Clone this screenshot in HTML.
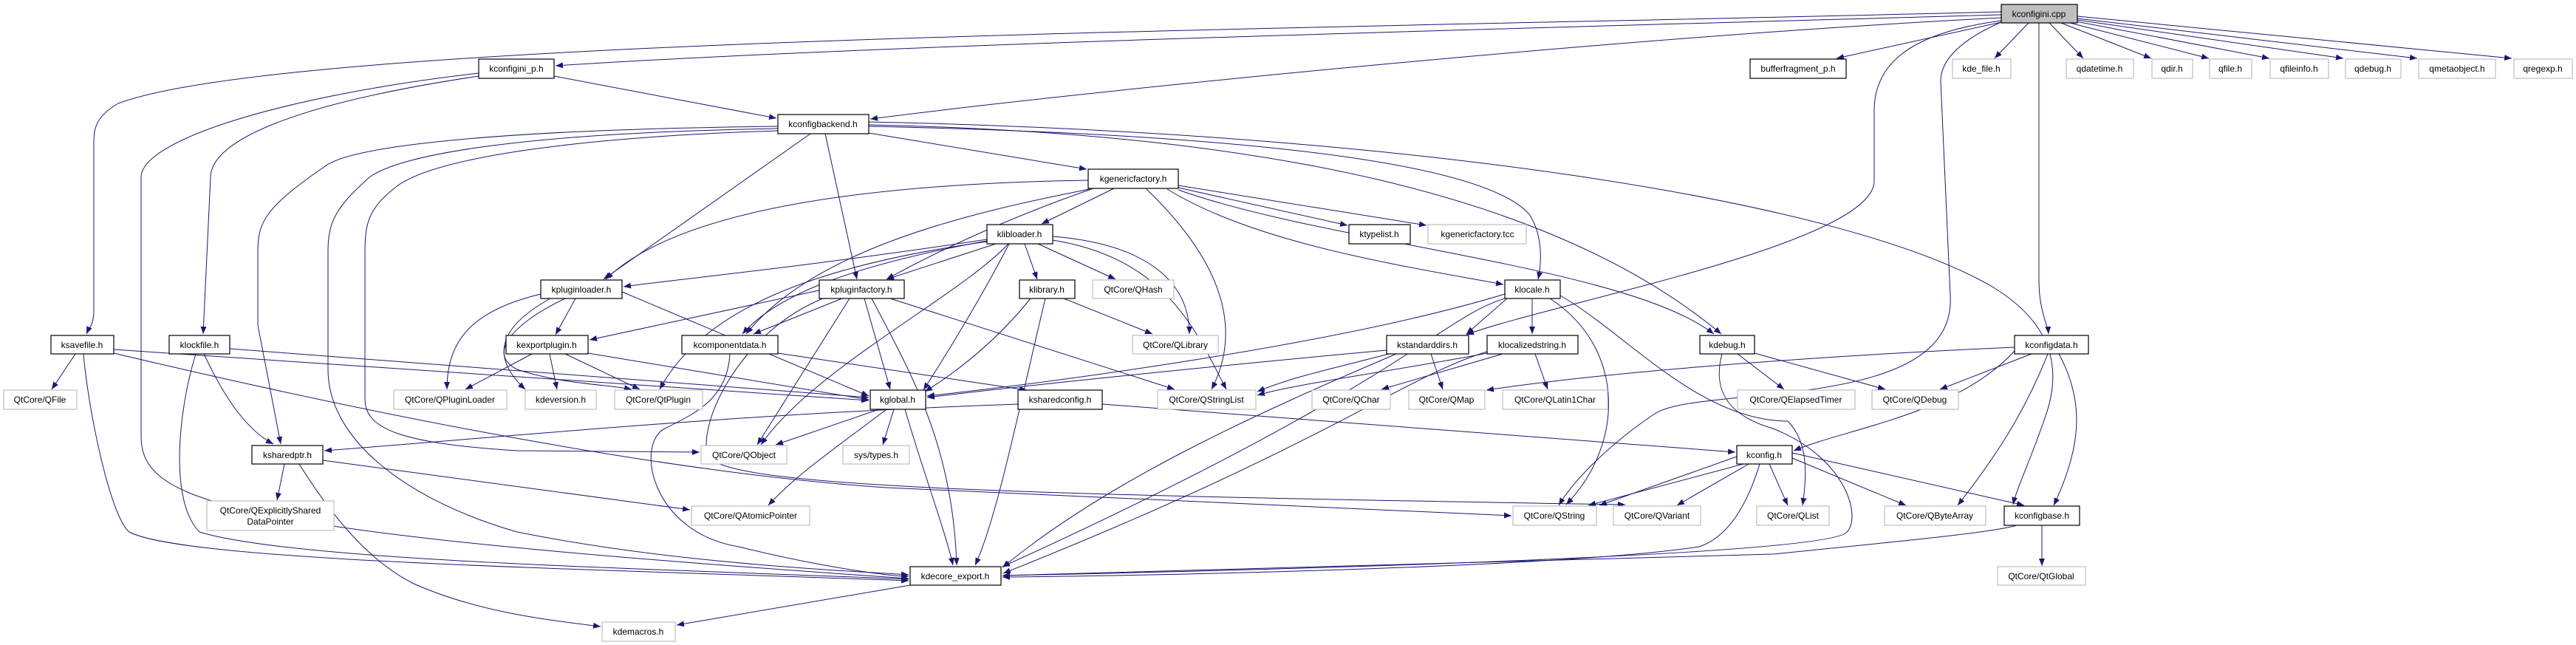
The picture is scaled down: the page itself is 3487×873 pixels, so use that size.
<!DOCTYPE html>
<html><head><meta charset="utf-8"><style>
html,body{margin:0;padding:0;background:#fff;}
svg{display:block;}
text{font-family:"Liberation Sans",sans-serif;font-size:12px;text-anchor:middle;fill:#000;}
.e{fill:none;stroke:#191970;stroke-width:1;marker-end:url(#a);}
.n{fill:#fff;stroke:#000;stroke-width:1.2;}
.x{fill:#fff;stroke:#bfbfbf;stroke-width:1.2;}
</style></head><body>
<svg width="3487" height="873" viewBox="0 0 3487 873" xmlns="http://www.w3.org/2000/svg">
<defs><marker id="a" markerUnits="userSpaceOnUse" markerWidth="11" markerHeight="8" refX="10" refY="4" orient="auto"><path d="M0,0 L10,4 L0,8 z" fill="#191970"/></marker></defs>
<g>
<path class="e" d="M2709,20 C2000,40 1200,60 752,89"/>
<path class="e" d="M2709,24 C2200,50 1500,120 1178,161"/>
<path class="e" d="M2709,16 C1800,40 400,50 160,140 C125,160 127,180 127,200 L127,420 C127,440 120,445 117,452"/>
<path class="e" d="M2709,30 L2486,79"/>
<path class="e" d="M2746,31 L2700,79"/>
<path class="e" d="M2774,31 L2820,79"/>
<path class="e" d="M2790,31 L2912,79"/>
<path class="e" d="M2802,31 L2990,79"/>
<path class="e" d="M2810,29 L3072,79"/>
<path class="e" d="M2812,27 L3172,79"/>
<path class="e" d="M2812,25 L3272,79"/>
<path class="e" d="M2812,22 L3400,79"/>
<path class="e" d="M2709,28 C2580,45 2537,90 2537,150 L2537,245 C2537,330 2100,410 1985,453"/>
<path class="e" d="M2760,31 L2760,380 C2760,420 2772,440 2773,452"/>
<path class="e" d="M2709,30 C2640,60 2627,90 2627,110 L2640,400 C2650,560 2300,520 2240,560 C2180,600 2130,650 2110,684"/>
<path class="e" d="M750,103 L1051,160"/>
<path class="e" d="M648,103 C400,140 285,190 285,240 L275,452"/>
<path class="e" d="M648,99 C380,130 191,190 191,240 L191,590 C191,680 300,720 1230,783"/>
<path class="e" d="M1097,181 L817,378"/>
<path class="e" d="M1117,181 L1160,378"/>
<path class="e" d="M1176,180 L1471,229"/>
<path class="e" d="M1053,171 C700,175 480,195 440,225 C360,280 349,300 349,340 L349,440 L380,601"/>
<path class="e" d="M1053,174 C700,180 540,210 500,240 C455,280 444,300 444,340 L444,500 C444,600 560,680 700,720 C900,760 1100,770 1230,778"/>
<path class="e" d="M1053,177 C800,185 600,210 540,250 C500,280 494,300 494,340 L494,540 C494,580 540,600 700,610 L947,612"/>
<path class="e" d="M1176,171 C1600,180 2000,210 2070,290 C2090,320 2086,360 2082,378"/>
<path class="e" d="M1176,169 C1700,180 2100,260 2330,452"/>
<path class="e" d="M1176,165 C1900,180 2500,270 2700,390 C2780,440 2790,500 2770,560 C2750,620 2730,660 2725,683"/>
<path class="e" d="M1508,255 L1410,303"/>
<path class="e" d="M1480,255 C1350,300 1250,350 1200,378"/>
<path class="e" d="M1475,256 C1300,290 1100,340 1010,452"/>
<path class="e" d="M1473,244 C1100,250 900,300 820,378"/>
<path class="e" d="M1595,254 L1824,305"/>
<path class="e" d="M1595,251 L1931,305"/>
<path class="e" d="M1580,256 C1700,330 1900,360 2035,385"/>
<path class="e" d="M1595,257 C1800,330 2200,360 2320,452"/>
<path class="e" d="M1552,256 C1660,360 1680,450 1640,527"/>
<path class="e" d="M1348,330 L1200,378"/>
<path class="e" d="M1387,330 L1404,378"/>
<path class="e" d="M1405,330 L1510,378"/>
<path class="e" d="M1425,320 C1550,330 1610,380 1610,452"/>
<path class="e" d="M1366,330 C1340,380 1300,450 1250,528"/>
<path class="e" d="M1365,330 C1300,400 1100,500 1030,602"/>
<path class="e" d="M1425,325 C1580,350 1620,450 1660,527"/>
<path class="e" d="M1336,324 C1100,360 900,380 844,388"/>
<path class="e" d="M1336,327 C1100,360 950,420 893,527"/>
<path class="e" d="M1336,326 C1150,360 1050,400 1005,452"/>
<path class="e" d="M779,404 L752,453"/>
<path class="e" d="M732,398 C640,420 605,460 605,527"/>
<path class="e" d="M745,404 C680,440 660,480 711,527"/>
<path class="e" d="M765,404 C690,440 660,480 700,500 C760,520 820,520 855,527"/>
<path class="e" d="M842,395 L1176,536"/>
<path class="e" d="M720,479 L630,527"/>
<path class="e" d="M744,479 L754,527"/>
<path class="e" d="M765,479 L866,527"/>
<path class="e" d="M796,478 L1176,541"/>
<path class="e" d="M1109,393 L798,460"/>
<path class="e" d="M1140,404 L1020,452"/>
<path class="e" d="M1170,404 L1205,527"/>
<path class="e" d="M1150,404 L1025,602"/>
<path class="e" d="M1180,404 C1230,500 1290,600 1295,765"/>
<path class="e" d="M1205,404 L1590,527"/>
<path class="e" d="M1114,404 C1000,450 940,580 960,620 C1000,660 1400,670 2200,683"/>
<path class="e" d="M1395,404 C1350,460 1300,500 1252,530"/>
<path class="e" d="M1440,404 L1560,452"/>
<path class="e" d="M1415,404 C1380,550 1350,700 1320,765"/>
<path class="e" d="M102,479 L70,527"/>
<path class="e" d="M154,473 L1176,542"/>
<path class="e" d="M154,478 C500,560 900,640 1200,660 L2046,698"/>
<path class="e" d="M113,479 C120,560 150,700 175,720 C250,760 800,770 1230,786"/>
<path class="e" d="M276,479 C300,530 330,580 370,601"/>
<path class="e" d="M311,472 L1176,538"/>
<path class="e" d="M265,479 C240,560 230,680 270,720 C400,760 900,770 1230,784"/>
<path class="e" d="M1053,478 L1390,528"/>
<path class="e" d="M988,479 C985,540 940,560 900,580 C860,600 880,720 1000,740 C1100,765 1200,780 1230,780"/>
<path class="e" d="M2037,398 C1800,470 1400,520 1255,536"/>
<path class="e" d="M2040,404 L1985,452"/>
<path class="e" d="M2074,404 L2074,452"/>
<path class="e" d="M2098,404 C2200,470 2200,600 2120,683"/>
<path class="e" d="M2112,400 C2200,450 2300,570 2420,570 C2450,600 2445,650 2440,684"/>
<path class="e" d="M2037,404 C1950,430 1900,520 1357,767"/>
<path class="e" d="M1877,474 C1700,490 1400,520 1255,538"/>
<path class="e" d="M1937,479 L1953,527"/>
<path class="e" d="M1880,479 C1800,500 1750,510 1702,530"/>
<path class="e" d="M1890,479 C1700,560 1500,650 1357,768"/>
<path class="e" d="M2034,479 L1870,527"/>
<path class="e" d="M2078,479 L2095,527"/>
<path class="e" d="M2013,478 C1900,500 1750,520 1702,535"/>
<path class="e" d="M2013,476 C1900,510 1800,600 1358,776"/>
<path class="e" d="M2352,479 L2415,527"/>
<path class="e" d="M2375,478 L2552,527"/>
<path class="e" d="M2331,479 C2320,520 2330,560 2400,580 C2500,620 2520,700 2500,720 C2480,750 1800,770 1357,779"/>
<path class="e" d="M2750,479 L2626,527"/>
<path class="e" d="M2772,479 C2740,560 2700,620 2650,684"/>
<path class="e" d="M2787,479 C2820,540 2820,600 2780,684"/>
<path class="e" d="M2727,470 C2500,480 2200,500 2012,528"/>
<path class="e" d="M2727,475 C2650,560 2500,580 2428,610"/>
<path class="e" d="M1190,554 L1050,602"/>
<path class="e" d="M1210,554 L1195,602"/>
<path class="e" d="M1200,554 C1140,600 1080,640 1040,684"/>
<path class="e" d="M1225,554 C1250,640 1280,720 1290,765"/>
<path class="e" d="M1378,547 C1000,560 700,590 439,610"/>
<path class="e" d="M1492,547 L2349,612"/>
<path class="e" d="M385,628 L375,677"/>
<path class="e" d="M437,623 L934,690"/>
<path class="e" d="M405,628 C450,700 500,760 560,790 C650,830 750,840 813,848"/>
<path class="e" d="M2351,618 L2165,684"/>
<path class="e" d="M2360,628 L2150,684"/>
<path class="e" d="M2367,628 L2270,684"/>
<path class="e" d="M2395,628 L2420,684"/>
<path class="e" d="M2426,620 L2580,684"/>
<path class="e" d="M2426,613 L2740,684"/>
<path class="e" d="M2382,628 C2360,700 2330,730 2300,740 C2100,770 1500,780 1357,781"/>
<path class="e" d="M2730,711 C2700,720 2600,730 2400,750 L1357,779"/>
<path class="e" d="M2764,711 L2764,766"/>
<path class="e" d="M1232,792 L916,846"/>
</g>
<g>
<rect x="2709" y="6" width="103" height="25" fill="#bfbfbf" stroke="#000" stroke-width="1.2"/><text x="2760" y="23">kconfigini.cpp</text>
<rect class="n" x="648" y="80" width="102" height="26"/><text x="699" y="97">kconfigini_p.h</text>
<rect class="n" x="2369" y="80" width="130" height="26"/><text x="2434" y="97">bufferfragment_p.h</text>
<rect class="x" x="2643" y="80" width="79" height="26"/><text x="2682" y="97">kde_file.h</text>
<rect class="x" x="2797" y="80" width="91" height="26"/><text x="2842" y="97">qdatetime.h</text>
<rect class="x" x="2913" y="80" width="55" height="26"/><text x="2940" y="97">qdir.h</text>
<rect class="x" x="2991" y="80" width="57" height="26"/><text x="3019" y="97">qfile.h</text>
<rect class="x" x="3073" y="80" width="79" height="26"/><text x="3112" y="97">qfileinfo.h</text>
<rect class="x" x="3175" y="80" width="75" height="26"/><text x="3212" y="97">qdebug.h</text>
<rect class="x" x="3274" y="80" width="104" height="26"/><text x="3326" y="97">qmetaobject.h</text>
<rect class="x" x="3403" y="80" width="79" height="26"/><text x="3442" y="97">qregexp.h</text>
<rect class="n" x="1053" y="155" width="123" height="26"/><text x="1114" y="172">kconfigbackend.h</text>
<rect class="n" x="1473" y="229" width="122" height="26"/><text x="1534" y="246">kgenericfactory.h</text>
<rect class="n" x="1336" y="304" width="89" height="26"/><text x="1380" y="321">klibloader.h</text>
<rect class="n" x="1826" y="304" width="83" height="26"/><text x="1867" y="321">ktypelist.h</text>
<rect class="x" x="1933" y="304" width="133" height="26"/><text x="2000" y="321">kgenericfactory.tcc</text>
<rect class="n" x="732" y="379" width="110" height="25"/><text x="787" y="396">kpluginloader.h</text>
<rect class="n" x="1109" y="379" width="115" height="25"/><text x="1166" y="396">kpluginfactory.h</text>
<rect class="n" x="1380" y="379" width="75" height="25"/><text x="1417" y="396">klibrary.h</text>
<rect class="x" x="1479" y="379" width="110" height="25"/><text x="1534" y="396">QtCore/QHash</text>
<rect class="n" x="2037" y="379" width="75" height="25"/><text x="2074" y="396">klocale.h</text>
<rect class="n" x="69" y="454" width="85" height="25"/><text x="111" y="471">ksavefile.h</text>
<rect class="n" x="229" y="454" width="82" height="25"/><text x="270" y="471">klockfile.h</text>
<rect class="n" x="685" y="454" width="111" height="25"/><text x="740" y="471">kexportplugin.h</text>
<rect class="n" x="923" y="454" width="130" height="25"/><text x="988" y="471">kcomponentdata.h</text>
<rect class="x" x="1533" y="454" width="116" height="25"/><text x="1591" y="471">QtCore/QLibrary</text>
<rect class="n" x="1877" y="454" width="111" height="25"/><text x="1932" y="471">kstandarddirs.h</text>
<rect class="n" x="2013" y="454" width="123" height="25"/><text x="2074" y="471">klocalizedstring.h</text>
<rect class="n" x="2301" y="454" width="74" height="25"/><text x="2338" y="471">kdebug.h</text>
<rect class="n" x="2727" y="454" width="100" height="25"/><text x="2777" y="471">kconfigdata.h</text>
<rect class="x" x="5" y="528" width="99" height="26"/><text x="54" y="545">QtCore/QFile</text>
<rect class="x" x="533" y="528" width="153" height="26"/><text x="609" y="545">QtCore/QPluginLoader</text>
<rect class="x" x="711" y="528" width="96" height="26"/><text x="759" y="545">kdeversion.h</text>
<rect class="x" x="832" y="528" width="119" height="26"/><text x="891" y="545">QtCore/QtPlugin</text>
<rect class="n" x="1178" y="528" width="75" height="26"/><text x="1215" y="545">kglobal.h</text>
<rect class="n" x="1378" y="528" width="114" height="26"/><text x="1435" y="545">ksharedconfig.h</text>
<rect class="x" x="1567" y="528" width="133" height="26"/><text x="1633" y="545">QtCore/QStringList</text>
<rect class="x" x="1776" y="528" width="106" height="26"/><text x="1829" y="545">QtCore/QChar</text>
<rect class="x" x="1907" y="528" width="103" height="26"/><text x="1958" y="545">QtCore/QMap</text>
<rect class="x" x="2034" y="528" width="142" height="26"/><text x="2105" y="545">QtCore/QLatin1Char</text>
<rect class="x" x="2352" y="528" width="159" height="26"/><text x="2431" y="545">QtCore/QElapsedTimer</text>
<rect class="x" x="2534" y="528" width="117" height="26"/><text x="2592" y="545">QtCore/QDebug</text>
<rect class="n" x="341" y="603" width="96" height="25"/><text x="389" y="620">ksharedptr.h</text>
<rect class="x" x="949" y="603" width="116" height="25"/><text x="1007" y="620">QtCore/QObject</text>
<rect class="x" x="1141" y="603" width="90" height="25"/><text x="1186" y="620">sys/types.h</text>
<rect class="n" x="2351" y="603" width="75" height="25"/><text x="2388" y="620">kconfig.h</text>
<rect class="x" x="280" y="678" width="172" height="40"/><text x="366" y="695">QtCore/QExplicitlyShared</text><text x="366" y="710">DataPointer</text>
<rect class="x" x="936" y="685" width="160" height="26"/><text x="1016" y="702">QtCore/QAtomicPointer</text>
<rect class="x" x="2048" y="685" width="113" height="26"/><text x="2104" y="702">QtCore/QString</text>
<rect class="x" x="2184" y="685" width="118" height="26"/><text x="2243" y="702">QtCore/QVariant</text>
<rect class="x" x="2378" y="685" width="98" height="26"/><text x="2427" y="702">QtCore/QList</text>
<rect class="x" x="2551" y="685" width="137" height="26"/><text x="2619" y="702">QtCore/QByteArray</text>
<rect class="n" x="2713" y="685" width="102" height="26"/><text x="2764" y="702">kconfigbase.h</text>
<rect class="n" x="1232" y="767" width="123" height="25"/><text x="1293" y="784">kdecore_export.h</text>
<rect class="x" x="2704" y="767" width="119" height="25"/><text x="2763" y="784">QtCore/QtGlobal</text>
<rect class="x" x="815" y="842" width="99" height="26"/><text x="864" y="859">kdemacros.h</text>
</g>
</svg>
</body></html>
